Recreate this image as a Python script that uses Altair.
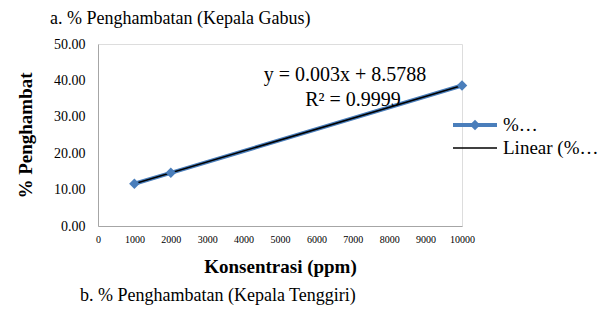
import altair as alt
import pandas as pd

conc = [1000, 2000, 10000]
inhib = [11.6, 14.6, 38.6]
eq_lines = ["y = 0.003x  + 8.5788", "R² = 0.9999"]
legend_labels = ["%…", "Linear (%…"]
x_ticks = [0, 1000, 2000, 3000, 4000, 5000, 6000, 7000, 8000, 9000, 10000]
y_ticks = [0, 10, 20, 30, 40, 50]
title_text = "a. % Penghambatan (Kepala Gabus)"
footer_text = "b. % Penghambatan (Kepala Tenggiri)"

FONT = "Liberation Serif"
BLUE = "#4A7EBB"

df = pd.DataFrame({"x": conc, "y": inhib})

xs = alt.X("x:Q", scale=alt.Scale(domain=[0, 10000], nice=False),
           axis=alt.Axis(values=x_ticks, format="d", title="Konsentrasi (ppm)", grid=False, ticks=False,
                         labelFont=FONT, labelFontSize=10, labelColor="black", labelPadding=8,
                         labelOverlap=False, domainColor="#A6A6A6", titleFont=FONT, titleFontSize=19,
                         titleFontWeight="bold", titleColor="black", titlePadding=13,
                         labelFlush=False))
ys = alt.Y("y:Q", scale=alt.Scale(domain=[0, 50], nice=False),
           axis=alt.Axis(values=y_ticks, format=".2f", title="% Penghambat", grid=False, ticks=False,
                         labelFont=FONT, labelFontSize=14, labelColor="black", labelPadding=13,
                         labelOverlap=False, domainColor="#A6A6A6", titleFont=FONT, titleFontSize=19,
                         titleFontWeight="bold", titleColor="black", titlePadding=18))

base = alt.Chart(df)
series = base.mark_line(color=BLUE, strokeWidth=4).encode(x=xs, y=ys)
pts = base.mark_point(shape="diamond", filled=True, color=BLUE, size=110, opacity=1).encode(x=xs, y=ys)
trend = base.transform_regression("x", "y").mark_line(color="black", strokeWidth=1.5).encode(x=xs, y=ys)

eq_df = pd.DataFrame({"t": eq_lines, "i": [0, 1]})
eq1 = alt.Chart(eq_df[eq_df.i == 0]).mark_text(font=FONT, fontSize=20, color="black", align="center", baseline="middle").encode(
    text="t:N", x=alt.value(247), y=alt.value(31))
eq2 = alt.Chart(eq_df[eq_df.i == 1]).mark_text(font=FONT, fontSize=20, color="black", align="center", baseline="middle").encode(
    text="t:N", x=alt.value(255), y=alt.value(56))

leg_df = pd.DataFrame({"t": legend_labels})
leg_line1 = alt.Chart(leg_df.iloc[[0]]).mark_rule(color=BLUE, strokeWidth=4).encode(
    x=alt.value(355), x2=alt.value(399), y=alt.value(81))
leg_pt = alt.Chart(leg_df.iloc[[0]]).mark_point(shape="diamond", filled=True, color=BLUE, size=110, opacity=1).encode(
    x=alt.value(377), y=alt.value(81))
leg_t1 = alt.Chart(leg_df.iloc[[0]]).mark_text(font=FONT, fontSize=19, color="black", align="left", baseline="middle").encode(
    text="t:N", x=alt.value(405), y=alt.value(81))
leg_line2 = alt.Chart(leg_df.iloc[[1]]).mark_rule(color="black", strokeWidth=1.5).encode(
    x=alt.value(355), x2=alt.value(399), y=alt.value(104))
leg_t2 = alt.Chart(leg_df.iloc[[1]]).mark_text(font=FONT, fontSize=19, color="black", align="left", baseline="middle").encode(
    text="t:N", x=alt.value(405), y=alt.value(104))

foot = alt.Chart(pd.DataFrame({"t": [footer_text]})).mark_text(
    font=FONT, fontSize=18, color="black", align="left", baseline="middle").encode(
    text="t:N", x=alt.value(-18), y=alt.value(252))

chart = alt.layer(series, trend, pts, eq1, eq2, leg_line1, leg_pt, leg_t1, leg_line2, leg_t2, foot).properties(
    width=364, height=182,
    title=alt.TitleParams(title_text, anchor="start", frame="group", font=FONT, fontSize=18,
                          fontWeight="normal", color="black", dx=-48, offset=9),
    autosize=alt.AutoSizeParams(type="none"),
    padding={"left": 90, "top": 36, "right": 140, "bottom": 82},
).configure_view(stroke=None).configure(background="white")

chart.save("out.html", embed_options={"renderer": "svg", "actions": False})
